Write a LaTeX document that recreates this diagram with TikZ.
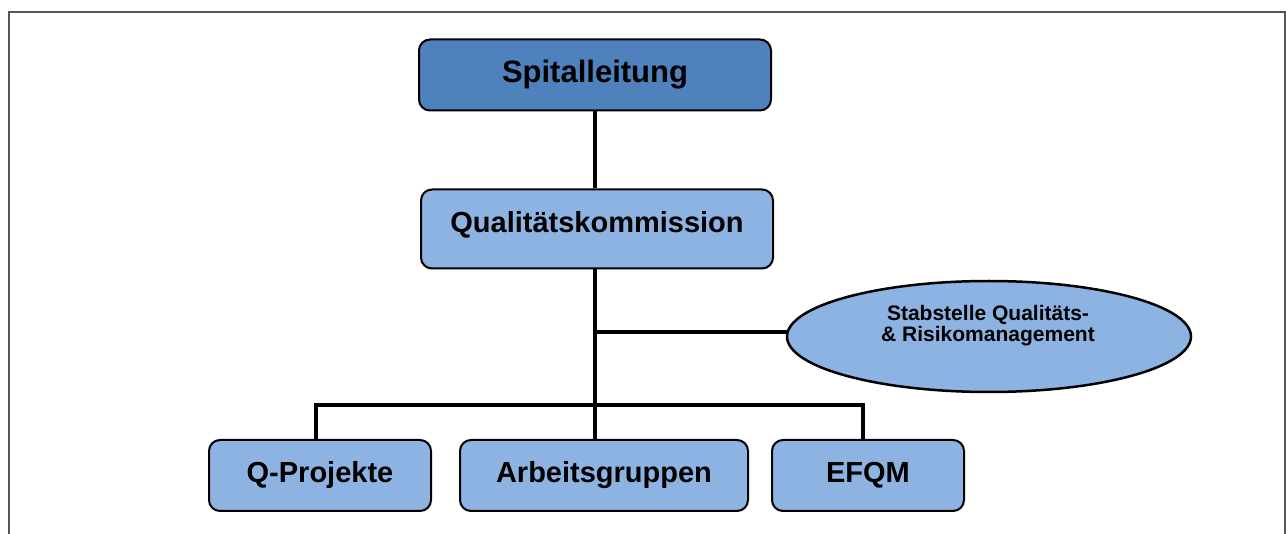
\documentclass[tikz,border=0pt]{standalone}
\usepackage{fontspec}
\setmainfont{Liberation Sans}
\usetikzlibrary{shapes.geometric,backgrounds}
\definecolor{darkblue}{HTML}{4F81BD}
\definecolor{lightblue}{HTML}{8DB3E2}
\definecolor{framegray}{HTML}{555555}
\begin{document}
\begin{tikzpicture}[x=1pt,y=-1pt,
  box/.style={draw=black, line width=2pt, rounded corners=11pt, fill=lightblue,
    inner sep=0pt, align=center, font=\fontsize{29}{34}\selectfont\bfseries},
  conn/.style={draw=black, line width=3.5pt},
  oval/.style={ellipse, draw=black, line width=2.5pt, fill=lightblue, inner sep=0pt}]
\useasboundingbox (0,0) rectangle (1286,534);
% nodes
\node[box, fill=darkblue, minimum width=352pt, minimum height=71pt,
  font=\fontsize{31}{36}\selectfont\bfseries] (sl) at (595,75) {Spitalleitung};
\node[box, minimum width=352pt, minimum height=79pt, text height=21pt, text depth=14.2pt] (qk) at (597,229) {Qualitätskommission};
\node[oval, minimum width=404pt, minimum height=111pt] (st) at (989,336.5) {};
\node[align=center, inner sep=0pt, font=\fontsize{21}{21}\selectfont\bfseries] (stt) at (988,326)
  {Stabstelle Qualitäts-\\\& Risikomanagement};
\node[box, minimum width=222pt, minimum height=71pt] (qp) at (320,475.5) {Q-Projekte};
\node[box, minimum width=288pt, minimum height=71pt] (ag) at (604,475.5) {Arbeitsgruppen};
\node[box, minimum width=192pt, minimum height=71pt] (ef) at (868,475.5) {EFQM};
% connectors and frame
\coordinate (j1) at (595,332);
\begin{scope}[on background layer]
\fill[white] (0,0) rectangle (1286,534);
\draw[framegray, line width=2pt] (8.7,534) -- (8.7,12) -- (1285,12) -- (1285,534);
\draw[conn] (sl.south -| 595,0) -- (qk.north -| 595,0);
\draw[conn] (qk.south -| 595,0) -- (ag.north -| 595,0);
\draw[conn] (j1) -- (j1 -| st.center);
\draw[conn, line cap=rect] (qp.north -| 316,0) -- (316,405) -- (863,405) -- (ef.north -| 863,0);
\end{scope}
\end{tikzpicture}
\end{document}
